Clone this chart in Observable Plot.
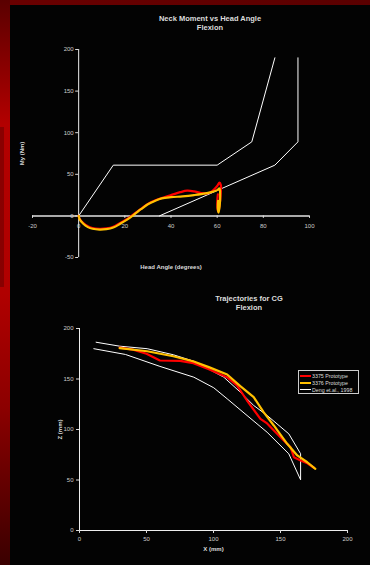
<!DOCTYPE html>
<html><head><meta charset="utf-8">
<script src="https://cdn.jsdelivr.net/npm/d3@7"></script>
<script src="https://cdn.jsdelivr.net/npm/@observablehq/plot@0.6"></script>
<style>
html,body{margin:0;padding:0;background:#000;}
#page{position:relative;width:370px;height:565px;overflow:hidden;background:#030303;font-family:"Liberation Sans",Arial,sans-serif;}
#topbar{position:absolute;left:0;top:0;width:370px;height:5px;background:linear-gradient(90deg,#6a0000,#5a0000);}
#leftbar{position:absolute;left:0;top:0;width:10px;height:565px;background:linear-gradient(180deg,#5a0000 0%,#8a0000 12%,#b30000 22%,#b00000 52%,#8c0000 72%,#3a0000 100%);}
#leftshade{position:absolute;left:0;top:127px;width:4px;height:160px;background:rgba(60,0,0,0.35);}
.title{position:absolute;color:#ddd;font-weight:bold;font-size:7.5px;text-align:center;line-height:9px;}
.chart{position:absolute;left:0;}
#legend{position:absolute;left:298px;top:370px;width:61px;height:24px;border:1px solid #ccc;box-sizing:border-box;font-size:5.3px;color:#ddd;padding:1px 1px;white-space:nowrap;overflow:hidden;}
#legend div{display:flex;align-items:center;height:7px;}
#legend span.sw{display:inline-block;width:11px;margin-right:1px;flex:none;}
</style></head>
<body><div id="page">
<div id="topbar"></div><div id="leftbar"></div><div id="leftshade"></div>
<div class="title" style="left:110px;top:14px;width:200px;">Neck Moment vs Head Angle<br>Flexion</div>
<div class="title" style="left:149px;top:294px;width:200px;">Trajectories for CG<br>Flexion</div>
<div id="c1" class="chart" style="top:40px;"></div>
<div id="c2" class="chart" style="top:285px;"></div>
<div id="legend">
 <div><span class="sw" style="border-top:2px solid #ff0000"></span>3375 Prototype</div>
 <div><span class="sw" style="border-top:2px solid #ffc000"></span>3376 Prototype</div>
 <div><span class="sw" style="border-top:1px solid #fff"></span>Deng et.al., 1998</div>
</div>
</div>
<script>
// ---- Chart 1 data: Neck Moment vs Head Angle ----
const angleTicks = [-20, 0, 20, 40, 60, 80, 100];
const momentTicks = [-50, 0, 50, 100, 150, 200];
const upperCorridorX = [0, 15, 60, 75, 85];
const upperCorridorY = [0, 61, 61, 89, 190];
const lowerCorridorX = [35, 85, 95, 95];
const lowerCorridorY = [0, 61, 89, 190];
const red1X = [0, 0.5, 2, 4, 6, 9, 12, 15, 18, 21, 24, 27, 30, 33, 36, 40, 44, 47, 50, 53, 56, 58, 60, 61, 61.6, 61.5, 61, 60.5, 60.1, 60.1, 60.3];
const red1Y = [0, -4, -8.5, -12.5, -14.5, -15.5, -15, -13, -8.5, -3.5, 2.5, 8.5, 14.5, 18.5, 21.5, 25, 28.5, 30.3, 29.5, 27.5, 27.2, 30, 36, 40, 37, 25, 12, 5, 10, 20, 26];
const yel1X = [0, 0.5, 2, 4, 6, 9, 12, 15, 18, 21, 24, 27, 30, 33, 36, 40, 45, 50, 55, 58, 60, 61, 61.3, 61.1, 60.6, 60.3, 60.4];
const yel1Y = [0, -4.5, -9.5, -13.5, -15.5, -16.5, -16, -14, -9.5, -4.5, 1.5, 8, 14, 18, 21, 22.5, 23.5, 25, 27, 29, 31, 33, 25, 12, 4, 8, 18];

// ---- Chart 2 data: Trajectories for CG ----
const xTicks2 = [0, 50, 100, 150, 200];
const zTicks2 = [0, 50, 100, 150, 200];
const red2X = [30, 40, 50, 60, 75, 85, 97, 110, 117.5, 125, 135, 140, 150, 157.5, 160, 165, 170, 175];
const red2Z = [181, 179, 175, 168.3, 168, 165.7, 159.5, 151.8, 143.6, 128.7, 110.6, 106, 92.4, 82.5, 72.6, 69.3, 66.5, 62.1];
const yel2X = [30, 50.5, 70, 85.3, 97, 110.2, 120, 130, 137.5, 145, 155, 162.5, 170, 176];
const yel2Z = [180.5, 177.5, 172.5, 167.3, 161.5, 154.5, 143, 132, 117, 104, 85.8, 74.3, 67.6, 61];
const dengX = [12.4, 30, 50.5, 70, 85.3, 107.7, 120, 130, 140, 156.2, 165, 165, 156.2, 140, 125, 110.2, 100.2, 85.3, 60, 34.3, 10.7];
const dengZ = [186.4, 182.5, 180, 174, 167.6, 151.8, 137, 123.8, 113.9, 95.7, 76, 50.2, 75.9, 97.3, 113.9, 130.4, 141.3, 151.8, 162.5, 174.3, 180];

const zip = (xs, ys) => xs.map((x, i) => ({x, y: ys[i]}));
const tickColor = "#ccc";
const fontSize = 6;

// Chart 1
const c1 = Plot.plot({
  width: 370, height: 235,
  marginLeft: 32, marginRight: 61, marginTop: 9, marginBottom: 18,
  x: {domain: [-20, 100], axis: null},
  y: {domain: [-50, 200], axis: null},
  style: {background: "transparent", fontFamily: "Liberation Sans, Arial, sans-serif"},
  marks: [
    Plot.ruleY([0], {x1: -20, x2: 100, stroke: "#aaa", strokeWidth: 2}),
    Plot.ruleX(angleTicks, {x: d => d, y1: 0, y2: -3, stroke: "#ddd"}),
    Plot.text(angleTicks, {x: d => d, y: 0, dy: 10, text: d => String(d), fill: tickColor, fontSize}),
    Plot.ruleX([0], {y1: -50, y2: 200, stroke: "#eee", strokeWidth: 1}),
    Plot.ruleY(momentTicks, {y: d => d, x1: 0, x2: -1.3, stroke: "#ddd"}),
    Plot.text(momentTicks, {x: 0, y: d => d, dx: -5, textAnchor: "end", text: d => String(d), fill: tickColor, fontSize}),
    Plot.text(["Head Angle (degrees)"], {x: 40, y: -50, dy: 10, text: d => d, fill: "#ddd", fontSize: 6, fontWeight: "bold"}),
    Plot.text(["My (Nm)"], {x: -20, y: 75, dx: -10, rotate: -90, text: d => d, fill: "#ddd", fontSize: 6, fontWeight: "bold"}),
    Plot.line(zip(upperCorridorX, upperCorridorY), {x: "x", y: "y", stroke: "#fff", strokeWidth: 1}),
    Plot.line(zip(lowerCorridorX, lowerCorridorY), {x: "x", y: "y", stroke: "#fff", strokeWidth: 1}),
    Plot.line(zip(red1X, red1Y), {x: "x", y: "y", stroke: "#ff0000", strokeWidth: 2.2, curve: "catmull-rom"}),
    Plot.line(zip(yel1X, yel1Y), {x: "x", y: "y", stroke: "#ffc000", strokeWidth: 2.2, curve: "catmull-rom"})
  ]
});
document.getElementById("c1").appendChild(c1);

// Chart 2
const c2 = Plot.plot({
  width: 370, height: 275,
  marginLeft: 79, marginRight: 23, marginTop: 43, marginBottom: 30,
  x: {domain: [0, 200], axis: null},
  y: {domain: [0, 200], axis: null},
  style: {background: "transparent", fontFamily: "Liberation Sans, Arial, sans-serif"},
  marks: [
    Plot.ruleY([0], {x1: 0, x2: 200, stroke: "#eee", strokeWidth: 1}),
    Plot.ruleX(xTicks2, {x: d => d, y1: 0, y2: -3, stroke: "#ddd"}),
    Plot.text(xTicks2, {x: d => d, y: 0, dy: 9, text: d => String(d), fill: tickColor, fontSize}),
    Plot.ruleX([0], {y1: 0, y2: 200, stroke: "#eee", strokeWidth: 1}),
    Plot.ruleY(zTicks2, {y: d => d, x1: 0, x2: -2.2, stroke: "#ddd"}),
    Plot.text(zTicks2, {x: 0, y: d => d, dx: -6, textAnchor: "end", text: d => String(d), fill: tickColor, fontSize}),
    Plot.text(["X (mm)"], {x: 100, y: 0, dy: 19, text: d => d, fill: "#ddd", fontSize: 6, fontWeight: "bold"}),
    Plot.text(["Z (mm)"], {x: 0, y: 100, dx: -19, rotate: -90, text: d => d, fill: "#ddd", fontSize: 6, fontWeight: "bold"}),
    Plot.line(zip(dengX, dengZ), {x: "x", y: "y", stroke: "#fff", strokeWidth: 1}),
    Plot.line(zip(red2X, red2Z), {x: "x", y: "y", stroke: "#ff0000", strokeWidth: 2.2}),
    Plot.line(zip(yel2X, yel2Z), {x: "x", y: "y", stroke: "#ffc000", strokeWidth: 2.2})
  ]
});
document.getElementById("c2").appendChild(c2);
</script>
</body></html>
